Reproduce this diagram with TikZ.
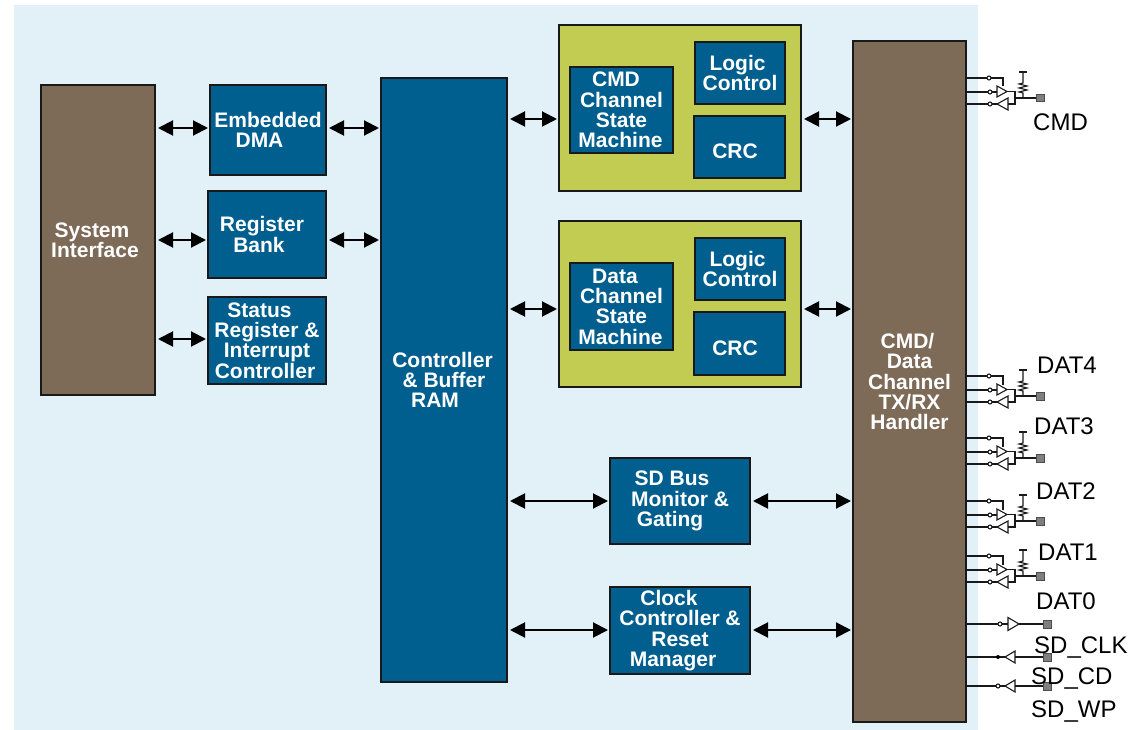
\documentclass[tikz,border=0pt]{standalone}
\usepackage{fontspec}
\setmainfont{Liberation Sans}
\usepackage{xcolor}
\usetikzlibrary{positioning,arrows.meta}
\definecolor{panelblue}{HTML}{E2F1F7}
\definecolor{boxblue}{HTML}{005F8E}
\definecolor{boxbrown}{HTML}{7D6B57}
\definecolor{boxgreen}{HTML}{C3CC52}
\definecolor{padgray}{HTML}{7F7F7F}
\newcommand{\nudge}[1]{\hspace*{#1pt}}
\tikzset{
  tallfirst/.style={execute at begin node={\rule{0pt}{#1pt}}},
  block/.style n args={2}{draw=black!90,line width=1.8pt,outer sep=0pt,text=white,align=center,anchor=north west,inner sep=0pt,
    minimum width=#1,minimum height=#2,font=\fontsize{21}{20.3}\selectfont\bfseries,tallfirst=24},
  bluebox/.style 2 args={block={#1}{#2},fill=boxblue},
  brownbox/.style 2 args={block={#1}{#2},fill=boxbrown},
  greenbox/.style 2 args={block={#1}{#2},fill=boxgreen},
  biarrow/.style={line width=2pt,{Triangle[length=15pt,width=15pt]}-{Triangle[length=15pt,width=15pt]},shorten <=3pt,shorten >=2pt},
  wire/.style={line width=1.1pt,black!90},
  padbox/.style={draw=black!70,line width=0.5pt,fill=padgray,minimum size=7.5pt,inner sep=0pt},
  pinlabel/.style={anchor=west,inner sep=0pt,font=\fontsize{24}{24}\selectfont},
  pics/pincell/.style={code={
    \begin{scope}[yscale=-1]
    \draw[wire] (0,0) -- (21,0) (25,0) -- (37,0) -- (37,8.5);
    \draw[wire] (23,0) circle (2);
    \draw[wire] (0,14) -- (22,14) (31,14) -- (26,14);
    \draw[wire] (24,14) circle (2);
    \draw[wire] (31,8) -- (31,19) -- (41,13.5) -- cycle;
    \draw[wire] (0,26) -- (22,26) (26,26) -- (31,26);
    \draw[wire] (24,26) circle (2);
    \draw[wire] (31,26) -- (42,20) -- (42,32) -- cycle;
    \draw[wire] (41,13.5) -- (49,13.5) -- (49,26) -- (42,26);
    \node[padbox] (-pad) at (74,20) {};
    \draw[wire] (49,20) -- (-pad);
    \draw[wire] (57,20) -- (57,15) -- (53,14) -- (61,12) -- (53,10) -- (61,8) -- (53,6) -- (57,5) -- (57,-6);
    \draw[wire] (53,-6) -- (61,-6);
    \end{scope}
  }}
}
\begin{document}
\begin{tikzpicture}[x=1pt,y=1pt,yscale=-1]
  \useasboundingbox (0,0) rectangle (1130,730);
  \fill[panelblue] (14,5) rectangle (978,730);

  % left column
  \node[brownbox={114pt}{310pt}] (sysif) at (41,85) {System\nudge{12}\\Interface\nudge{6}};
  \node[bluebox={116pt}{90pt}] (dma) at (210,85) {Embedded\\DMA\nudge{17}};
  \node[bluebox={118pt}{87pt}] (regbank) at (208,191) {Register\nudge{10}\\Bank\nudge{16}};
  \node[bluebox={118pt}{87pt}] (status) at (208,297) {Status\nudge{15}\\Register \&\nudge{4}\\Interrupt\nudge{8}\\Controller\nudge{4}};
  \node[bluebox={126pt}{604pt}] (ctrlram) at (381,78) {Controller\nudge{3}\\\& Buffer\nudge{4}\\RAM\nudge{18}};

  % channel groups
  \node[greenbox={242pt}{166pt}] (cmdgroup) at (559,25) {};
  \node[bluebox={103pt}{86pt}] (cmdfsm) at (570,67) {CMD\nudge{11}\\Channel\\State\nudge{10}\\Machine\nudge{2}};
  \node[bluebox={90pt}{62pt},tallfirst=22] (cmdlogic) at (695,42) {Logic\nudge{5}\\Control};
  \node[bluebox={91pt}{62pt},tallfirst=20] (cmdcrc) at (694,116) {CRC\nudge{9}};
  \node[greenbox={242pt}{166pt}] (datagroup) at (559,221) {};
  \node[bluebox={103pt}{87pt}] (datafsm) at (570,263) {Data\nudge{13}\\Channel\\State\nudge{10}\\Machine\nudge{2}};
  \node[bluebox={90pt}{62pt},tallfirst=22] (datalogic) at (695,238) {Logic\nudge{5}\\Control};
  \node[bluebox={91pt}{63pt},tallfirst=17] (datacrc) at (694,312) {CRC\nudge{9}};

  \node[bluebox={140pt}{86pt},tallfirst=23] (busmon) at (610,458) {SD Bus\nudge{16}\\Monitor \&\nudge{20}\\Gating\nudge{20}};
  \node[bluebox={140pt}{87pt},tallfirst=25] (clkctrl) at (610,587) {Clock\nudge{22}\\Controller \&\nudge{5}\\Reset\nudge{32}\\Manager\nudge{14}};
  \node[brownbox={113pt}{681pt}] (handler) at (853,41) {CMD/\nudge{4}\\Data\nudge{7}\\Channel\\TX/RX\nudge{3}\\Handler};

  % bus arrows
  \draw[biarrow] (sysif.east |- 0,128) -- (dma.west |- 0,128);
  \draw[biarrow] (dma.east |- 0,128) -- (ctrlram.west |- 0,128);
  \draw[biarrow] (sysif.east |- 0,240) -- (regbank.west |- 0,240);
  \draw[biarrow] (regbank.east |- 0,240) -- (ctrlram.west |- 0,240);
  \draw[biarrow] (sysif.east |- 0,339) -- (status.west |- 0,339);
  \draw[biarrow] (ctrlram.east |- 0,119) -- (cmdgroup.west |- 0,119);
  \draw[biarrow] (cmdgroup.east |- 0,119) -- (handler.west |- 0,119);
  \draw[biarrow] (ctrlram.east |- 0,309) -- (datagroup.west |- 0,309);
  \draw[biarrow] (datagroup.east |- 0,309) -- (handler.west |- 0,309);
  \draw[biarrow] (ctrlram.east |- 0,501) -- (busmon.west |- 0,501);
  \draw[biarrow] (busmon.east |- 0,501) -- (handler.west |- 0,501);
  \draw[biarrow] (ctrlram.east |- 0,630) -- (clkctrl.west |- 0,630);
  \draw[biarrow] (clkctrl.east |- 0,630) -- (handler.west |- 0,630);

  % pin cells
  \pic (cmdpin) at (966,78) {pincell};
  \pic (dat4pin) at (966,376) {pincell};
  \pic (dat3pin) at (966,438) {pincell};
  \pic (dat2pin) at (966,501) {pincell};
  \pic (dat1pin) at (966,556) {pincell};

  \node[padbox] (clkpad) at (1047,624) {};
  \node[padbox] (cdpad) at (1047,657) {};
  \node[padbox] (wppad) at (1047,686) {};
  \draw[wire] (handler.east |- clkpad) -- (998,624) (1002,624) -- (1008,624) (1019,624) -- (clkpad);
  \draw[wire] (1000,624) circle (2);
  \draw[wire] (1008,617.5) -- (1008,630.5) -- (1019,624) -- cycle;
  \draw[wire] (handler.east |- cdpad) -- (998,657) -- (1005,657) (1015,657) -- (cdpad);
  \fill (998,657) circle (2);
  \draw[wire] (1005,657) -- (1015,651) -- (1015,663) -- cycle;
  \draw[wire] (handler.east |- wppad) -- (996,686) (1000,686) -- (1005,686) (1015,686) -- (wppad);
  \draw[wire] (998,686) circle (2);
  \draw[wire] (1005,686) -- (1015,680) -- (1015,692) -- cycle;

  % pin names
  \node[pinlabel] (cmdname) at (1033,122) {CMD};
  \node[pinlabel] (dat4name) at (1037,365) {DAT4};
  \node[pinlabel] (dat3name) at (1034,426) {DAT3};
  \node[pinlabel] (dat2name) at (1036,491) {DAT2};
  \node[pinlabel] (dat1name) at (1038,552) {DAT1};
  \node[pinlabel] (dat0name) at (1036,601) {DAT0};
  \node[pinlabel] (clkname) at (1034,648) {SD\_CLK};
  \node[pinlabel] (cdname) at (1031,679) {SD\_CD};
  \node[pinlabel] (wpname) at (1031,712) {SD\_WP};
\end{tikzpicture}
\end{document}
